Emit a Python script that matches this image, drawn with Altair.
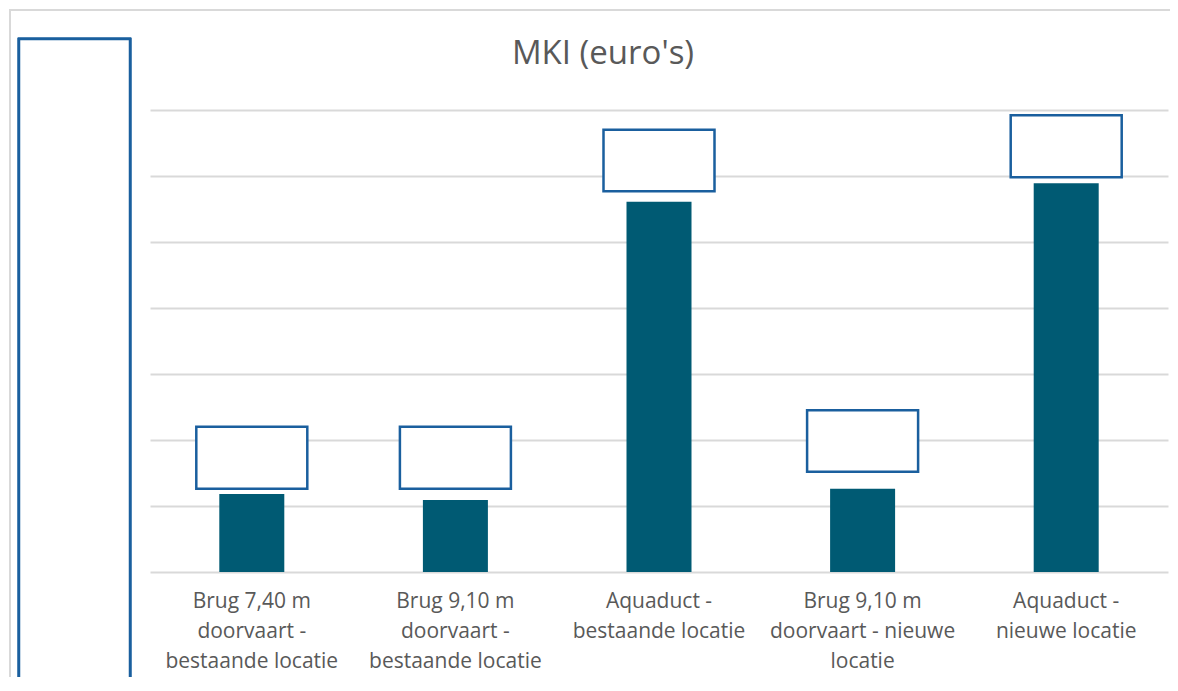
import altair as alt
import pandas as pd

categories = [
    "Brug 7,40 m|doorvaart -|bestaande locatie",
    "Brug 9,10 m|doorvaart -|bestaande locatie",
    "Aquaduct -|bestaande locatie",
    "Brug 9,10 m|doorvaart - nieuwe|locatie",
    "Aquaduct -|nieuwe locatie",
]
values = [1.18, 1.09, 5.61, 1.26, 5.89]
# redacted data-label boxes (value range covered by each box)
box_low = [1.26, 1.26, 5.77, 1.52, 5.98]
box_high = [2.20, 2.20, 6.70, 2.45, 6.92]
y_ticks = [0, 1, 2, 3, 4, 5, 6, 7]

df = pd.DataFrame({"cat": categories, "value": values, "lo": box_low, "hi": box_high})

GRAY = "#595959"
GRID = "#d9d9d9"
BLUE = "#1a5f9e"
BAR = "#005a73"
FONT = "Open Sans"

xenc = alt.X("cat:N", sort=categories, title=None,
             scale=alt.Scale(paddingInner=0.68, paddingOuter=0.34),
             axis=alt.Axis(labelExpr="split(datum.label, '|')", labelAngle=0,
                           labelFont=FONT, labelFontSize=21, labelColor=GRAY,
                           labelFontWeight=500,
                           labelLineHeight=30, labelPadding=18, ticks=False,
                           labelLimit=400, domain=False, labelBaseline="top"))
yenc = alt.Y("value:Q", title=None,
             scale=alt.Scale(domain=[0, 7], nice=False),
             axis=alt.Axis(values=y_ticks, labels=False, ticks=False, domain=False,
                           grid=True, gridColor=GRID, gridWidth=2))

bars = alt.Chart(df).mark_bar(color=BAR, size=65).encode(x=xenc, y=yenc)

boxes = alt.Chart(df).mark_bar(size=111, fill="white", stroke=BLUE, strokeWidth=2.5).encode(
    x=alt.X("cat:N", sort=categories), y=alt.Y("lo:Q"), y2="hi:Q")

frame = alt.Chart(df).mark_rect(fill=None, stroke=GRID, strokeWidth=2).encode(
    x=alt.value(-140), x2=alt.value(1046), y=alt.value(-100), y2=alt.value(640))

axis_box = alt.Chart(df).mark_rect(fill="white", stroke=BLUE, strokeWidth=2.5).encode(
    x=alt.value(-131), x2=alt.value(-20), y=alt.value(-71), y2=alt.value(640))

chart = alt.layer(frame, axis_box, bars, boxes).properties(
    width=1018, height=462,
    title=alt.TitleParams("MKI (euro's)", font=FONT, fontSize=33, fontWeight="normal",
                          color=GRAY, anchor="middle", frame="group", dx=-56,
                          offset=-88, baseline="alphabetic"),
    autosize=alt.AutoSizeParams(type="none"),
    padding={"left": 142, "top": 102, "right": 2, "bottom": 105},
).configure_view(stroke=None)

chart.save("out.html", embed_options={"renderer": "svg", "actions": False})
